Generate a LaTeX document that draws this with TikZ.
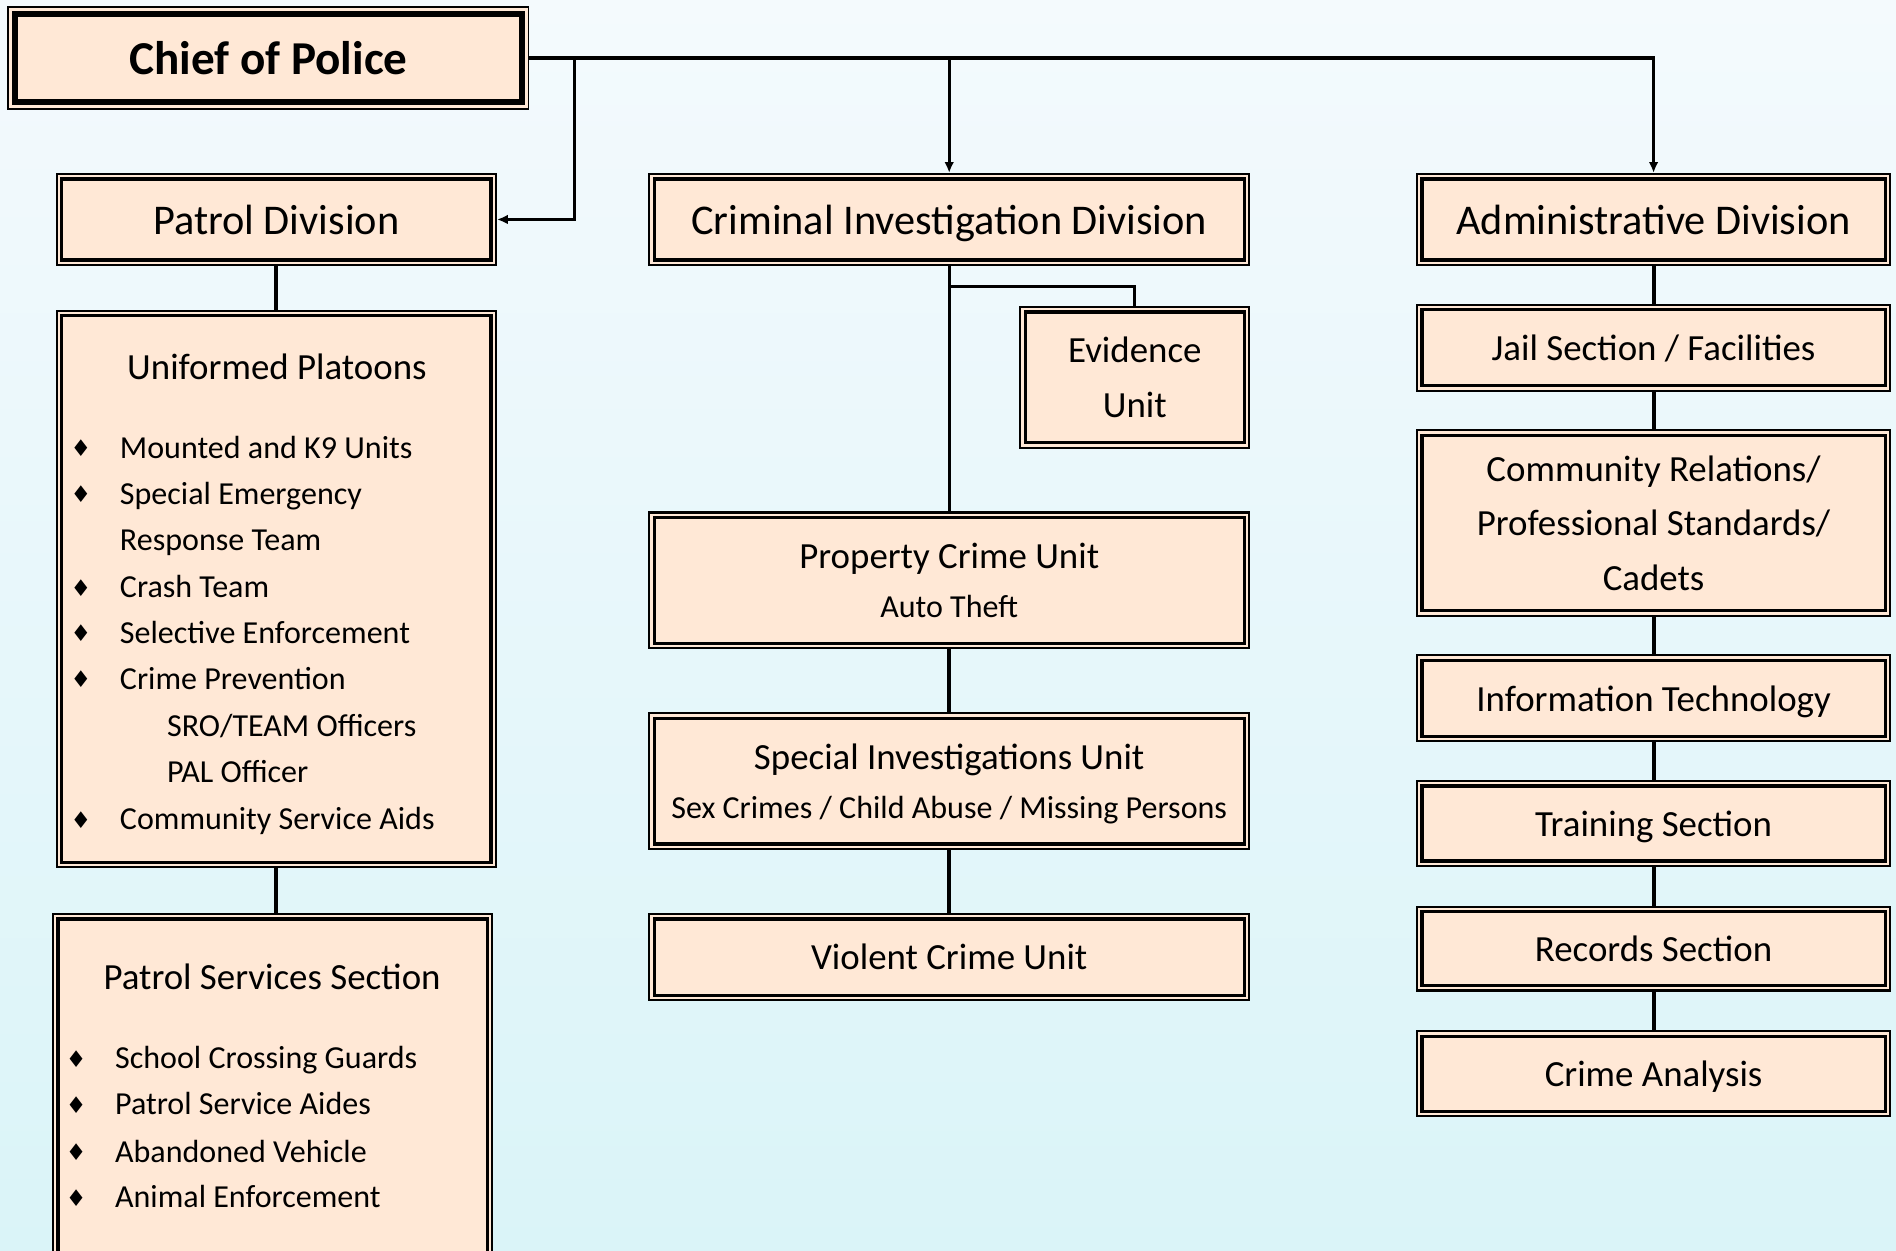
\documentclass[tikz,border=0pt]{standalone}
\usepackage{fontspec}
\setmainfont{Carlito}
\newfontfamily\symfont{DejaVu Sans}
\usetikzlibrary{arrows.meta,positioning}
\definecolor{unitfill}{HTML}{FFE8D6}
\definecolor{bgtop}{HTML}{F4FAFD}
\definecolor{bgbottom}{HTML}{DAF4F8}

\begin{document}
\begin{tikzpicture}[x=1pt, y=-1pt,
		unit/.style={draw, line width=2.6pt, fill=unitfill, inner sep=0pt, outer sep=5pt, align=center,
			text depth=0pt, preaction={draw, line width=10pt}, preaction={draw=unitfill, line width=6.6pt},
			font=\fontsize{30.5}{45}\selectfont},
		division/.style={unit, font=\fontsize{35}{45}\selectfont},
		chiefbox/.style={draw, line width=5pt, fill=unitfill, inner sep=0pt, outer sep=6.3pt,
			preaction={draw, line width=12.6pt}, preaction={draw=unitfill, line width=10pt},
			font=\fontsize{39}{45}\selectfont\bfseries},
		head/.style={inner sep=0pt, font=\fontsize{30.5}{36}\selectfont},
		item/.style={anchor=base west, inner sep=0pt, font=\fontsize{26.5}{30}\selectfont},
		bullet/.style={inner sep=0pt, font=\symfont\fontsize{19}{19}\selectfont},
		link/.style={line width=3.4pt},
		branch/.style={line width=2.7pt},
		feed/.style={line width=2.7pt, -{Latex[length=9pt, width=8pt]}},
	]
		\useasboundingbox (0,0) rectangle (1568,1034);
		\clip (0,0) rectangle (1568,1034);
		\shade[top color=bgtop, bottom color=bgbottom] (0,0) rectangle (1568,1034);

		% top level
		\node (chief) [chiefbox, minimum width=419pt, minimum height=73pt] at (222,48) {Chief of Police};
		\node (patrol) [division, minimum width=355pt, minimum height=67pt] at (228.5,181.5) {Patrol Division};
		\node (cid) [division, minimum width=488pt, minimum height=67pt] at (785,181.5) {Criminal Investigation Division};
		\node (admin) [division, minimum width=383pt, minimum height=67pt] at (1367.5,181.5) {Administrative Division};

		% patrol column
		\node (platoons) [unit, minimum width=355pt, minimum height=452pt] at (228.5,487) {};
		\node (services) [unit, minimum width=355pt, minimum height=285pt] at (225.5,902.5) {};
		\node (uptitle) [head] at (229,303) {Uniformed Platoons};
		\foreach \y/\txt [count=\i] in {371/Mounted and K9 Units, 409/Special Emergency, 486/Crash Team,
			524/Selective Enforcement, 562/Crime Prevention, 678/Community Service Aids} {
			\node (upbul\i) [bullet] at (67,\y) {♦};
			\node (upitem\i) [item] at (99,\y+8) {\txt};
		}
		\node (upcont) [item] at (99,455) {Response Team};
		\node (upsub1) [item] at (138,609) {SRO/TEAM Officers};
		\node (upsub2) [item] at (138,647) {PAL Officer};
		\node (pstitle) [head] at (225,808) {Patrol Services Section};
		\foreach \y/\txt [count=\i] in {876/School Crossing Guards, 914/Patrol Service Aides,
			953/Abandoned Vehicle, 991/Animal Enforcement} {
			\node (psbul\i) [bullet] at (63,\y) {♦};
			\node (psitem\i) [item] at (95,\y+8) {\txt};
		}

		% investigation column
		\node (evidence) [unit, minimum width=181pt, minimum height=108pt] at (938.5,312) {Evidence\\Unit};
		\node (property) [unit, minimum width=488pt, minimum height=104pt] at (785,480)
			{Property Crime Unit\\[-4pt]\fontsize{26.5}{30}\selectfont Auto Theft};
		\node (special) [unit, minimum width=488pt, minimum height=104pt] at (785,646)
			{Special Investigations Unit\\[-4pt]\fontsize{26.5}{30}\selectfont Sex Crimes / Child Abuse / Missing Persons};
		\node (violent) [unit, minimum width=488pt, minimum height=63pt] at (785,791.5) {Violent Crime Unit};

		% administrative column
		\node (jail) [unit, minimum width=383pt, minimum height=63pt] at (1367.5,287.5) {Jail Section / Facilities};
		\node (community) [unit, minimum width=383pt, minimum height=145pt] at (1367.5,432.5)
			{Community Relations/\\Professional Standards/\\Cadets};
		\node (itsec) [unit, minimum width=383pt, minimum height=63pt] at (1367.5,577.5) {Information Technology};
		\node (training) [unit, minimum width=383pt, minimum height=62pt] at (1367.5,681) {Training Section};
		\node (records) [unit, minimum width=383pt, minimum height=61pt] at (1367.5,784.5) {Records Section};
		\node (analysis) [unit, minimum width=383pt, minimum height=62pt] at (1367.5,888) {Crime Analysis};

		% connectors
		\coordinate (patrolsplit) at (475,48);
		\coordinate (evsplit) at (785,237);
		\draw[feed] (chief.east) -| (admin);
		\draw[feed] (cid.north |- chief.east) -- (cid);
		\draw[feed] (patrolsplit) |- (patrol);

		\draw[link] (patrol) -- (platoons);
		\draw[link] (platoons.south) -- (platoons.south |- services.north);

		\draw[branch] (cid) -- (property);
		\draw[branch] (evsplit) -| (evidence);
		\draw[link] (property) -- (special);
		\draw[link] (special) -- (violent);

		\foreach \a/\b in {admin/jail, jail/community, community/itsec, itsec/training,
			training/records, records/analysis}
			\draw[link] (\a) -- (\b);
	\end{tikzpicture}
\end{document}
